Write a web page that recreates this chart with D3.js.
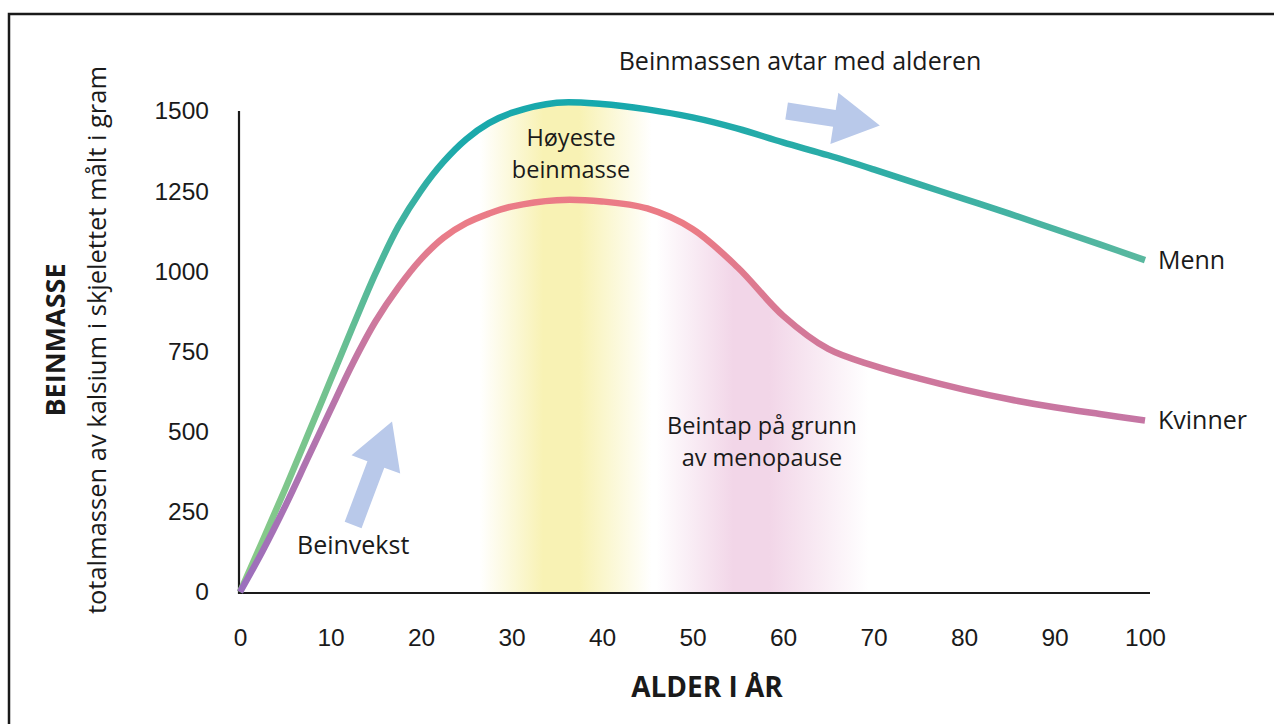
<!DOCTYPE html>
<html lang="no">
<head>
<meta charset="utf-8">
<title>Beinmasse gjennom livet</title>
<script src="https://cdn.jsdelivr.net/npm/d3@7/dist/d3.min.js"></script>
<style>
  html, body { margin: 0; padding: 0; background: #fff; }
  svg { display: block; font-family: "Open Sans", "Noto Sans", sans-serif; }
  .tick-label { font-size: 24.5px; fill: #1a1a1a; }
  .note { font-size: 25px; fill: #1a1a1a; }
  .note.multi { font-size: 23.5px; }
</style>
</head>
<body>
<svg id="chart" width="1274" height="724"></svg>
<script>
// Alder (år) og beinmasse (gram kalsium)
const ages = [0, 2.5, 5, 7.5, 10, 12.5, 15, 17.5, 20, 22.5, 25, 27.5, 30, 35, 40, 45, 50, 55, 60, 65, 70, 75, 80, 85, 90, 95, 100];
const menn = [0, 160, 322, 490, 660, 830, 995, 1140, 1252, 1342, 1412, 1462, 1494, 1526, 1522, 1505, 1480, 1445, 1402, 1362, 1318, 1272, 1226, 1180, 1132, 1084, 1035];
const kvinner = [0, 128, 268, 418, 568, 715, 845, 950, 1038, 1105, 1150, 1180, 1202, 1222, 1218, 1196, 1132, 1012, 862, 758, 706, 666, 631, 601, 576, 555, 535];

const xTicks = [0, 10, 20, 30, 40, 50, 60, 70, 80, 90, 100];
const yTicks = [0, 250, 500, 750, 1000, 1250, 1500];

const seriesLabels = ["Menn", "Kvinner"];

// Skyggebånd: [fra, topp-start, topp-slutt, til] i år
const peakBand = [26.5, 33.5, 37.5, 45.5];
const menopauseBand = [46, 54.5, 58.5, 69.5];

// Piler: [halealder, halemasse, spissalder, spissmasse]
const growthArrow = [12.5, 209, 16.8, 532];
const declineArrow = [60.4, 1500, 70.7, 1455];

const svg = d3.select("#chart");

const x = d3.scaleLinear().domain([0, 100]).range([240, 1145]);
const y = d3.scaleLinear().domain([0, 1500]).range([592, 111]);

const menData = ages.map((a, i) => ({ age: a, v: menn[i] }));
const womenData = ages.map((a, i) => ({ age: a, v: kvinner[i] }));

const curve = d3.curveCatmullRom.alpha(0.5);
const line = d3.line().x(d => x(d.age)).y(d => y(d.v)).curve(curve);
const area = d3.area().x(d => x(d.age)).y0(y(0)).y1(d => y(d.v)).curve(curve);

const defs = svg.append("defs");

// Ramme rundt figuren
svg.append("rect")
  .attr("x", 9).attr("y", 14)
  .attr("width", 1300).attr("height", 760)
  .attr("fill", "none").attr("stroke", "#1a1a1a").attr("stroke-width", 2.5);

// Fargeforløp langs linjene
function hGradient(id, stops) {
  const g = defs.append("linearGradient")
    .attr("id", id).attr("gradientUnits", "userSpaceOnUse")
    .attr("x1", x(0)).attr("x2", x(100)).attr("y1", 0).attr("y2", 0);
  stops.forEach(s => g.append("stop")
    .attr("offset", (x(s[0]) - x(0)) / (x(100) - x(0)))
    .attr("stop-color", s[1]).attr("stop-opacity", s[2] === undefined ? 1 : s[2]));
}

hGradient("menGrad", [[0, "#8ccb88"], [10, "#72c290"], [17, "#45b49f"], [24, "#1ba9ab"], [40, "#16a8ad"], [70, "#2fada6"], [100, "#5ab89f"]]);
hGradient("womenGrad", [[0, "#9a6fbd"], [10, "#b775ab"], [17, "#d67a98"], [23, "#ea7c88"], [50, "#eb7b85"], [62, "#d37898"], [100, "#c576a4"]]);

function band(id, b, color) {
  hGradient(id, [[b[0], color, 0], [b[1], color, 1], [b[2], color, 1], [b[3], color, 0]]);
}
band("peakGrad", peakBand, "#f8f2b4");
band("menoGrad", menopauseBand, "#f2d6e8");

defs.append("clipPath").attr("id", "underMen")
  .append("path").attr("d", area(menData));
defs.append("clipPath").attr("id", "underWomen")
  .append("path").attr("d", area(womenData));

svg.append("rect")
  .attr("x", x(peakBand[0])).attr("width", x(peakBand[3]) - x(peakBand[0]))
  .attr("y", y(1600)).attr("height", y(0) - y(1600))
  .attr("fill", "url(#peakGrad)")
  .attr("clip-path", "url(#underMen)");

svg.append("rect")
  .attr("x", x(menopauseBand[0])).attr("width", x(menopauseBand[3]) - x(menopauseBand[0]))
  .attr("y", y(1600)).attr("height", y(0) - y(1600))
  .attr("fill", "url(#menoGrad)")
  .attr("clip-path", "url(#underWomen)");

// Akser
const xAxis = d3.axisBottom(x).tickValues(xTicks).tickSize(0).tickPadding(36).tickFormat(d3.format("d"));
const yAxis = d3.axisLeft(y).tickValues(yTicks).tickSize(0).tickPadding(30).tickFormat(d3.format("d"));

const gx = svg.append("g").attr("transform", `translate(0,${y(0) + 1})`).call(xAxis);
gx.select(".domain").attr("d", `M${x(0) - 1},0H${x(100) + 5}`).attr("stroke", "#1a1a1a").attr("stroke-width", 2.2);
gx.selectAll(".tick text").attr("class", "tick-label").attr("font-family", null).attr("font-size", null).attr("dy", "0.71em");

const gy = svg.append("g").attr("transform", `translate(${x(0) - 1},0)`).call(yAxis);
gy.select(".domain").attr("d", `M0,${y(1500)}V${y(0) + 2}`).attr("stroke", "#1a1a1a").attr("stroke-width", 2.2);
gy.selectAll(".tick text").attr("class", "tick-label").attr("font-family", null).attr("font-size", null);

// Kurver
svg.append("path").attr("d", line(menData))
  .attr("fill", "none").attr("stroke", "url(#menGrad)").attr("stroke-width", 6.5).attr("stroke-linecap", "butt");
svg.append("path").attr("d", line(womenData))
  .attr("fill", "none").attr("stroke", "url(#womenGrad)").attr("stroke-width", 6.5).attr("stroke-linecap", "butt");

// Piler
function arrow(a, shaft, head, headLen) {
  const x0 = x(a[0]), y0 = y(a[1]), x1 = x(a[2]), y1 = y(a[3]);
  const dx = x1 - x0, dy = y1 - y0, len = Math.hypot(dx, dy);
  const ux = dx / len, uy = dy / len, nx = -uy, ny = ux;
  const bx = x1 - ux * headLen, by = y1 - uy * headLen;
  const pts = [
    [x0 + nx * shaft / 2, y0 + ny * shaft / 2],
    [bx + nx * shaft / 2, by + ny * shaft / 2],
    [bx + nx * head / 2, by + ny * head / 2],
    [x1, y1],
    [bx - nx * head / 2, by - ny * head / 2],
    [bx - nx * shaft / 2, by - ny * shaft / 2],
    [x0 - nx * shaft / 2, y0 - ny * shaft / 2]
  ];
  svg.append("polygon").attr("points", pts.map(p => p.join(",")).join(" ")).attr("fill", "#b9c9ea");
}
arrow(growthArrow, 18, 52, 46);
arrow(declineArrow, 17, 52, 46);

// Tekster i diagrammet, én tekst per linje
function note(tx, ty, lines, anchor) {
  const multi = lines.length > 1;
  lines.forEach((l, i) => svg.append("text").attr("class", multi ? "note multi" : "note")
    .attr("text-anchor", anchor || "middle")
    .attr("x", tx).attr("y", ty + i * 32).text(l));
}
note(800, 70, ["Beinmassen avtar med alderen"]);
note(571, 146, ["Høyeste", "beinmasse"]);
note(762, 434, ["Beintap på grunn", "av menopause"]);
note(297, 554, ["Beinvekst"], "start");

// Seriernavn ved linjeslutt
svg.selectAll(".series-label").data([menn[menn.length - 1], kvinner[kvinner.length - 1]])
  .join("text").attr("class", "note series-label")
  .attr("x", x(100) + 13).attr("y", d => y(d) + 9).text((d, i) => seriesLabels[i]);

// Aksetitler
svg.append("text")
  .attr("x", 707).attr("y", 697).attr("text-anchor", "middle")
  .attr("font-size", 28).attr("font-weight", 700).attr("fill", "#1a1a1a")
  .text("ALDER I ÅR");

svg.append("text")
  .attr("transform", "translate(65,340) rotate(-90)").attr("text-anchor", "middle")
  .attr("font-size", 27).attr("font-weight", 700).attr("fill", "#1a1a1a")
  .text("BEINMASSE");

svg.append("text")
  .attr("transform", "translate(106,340) rotate(-90)").attr("text-anchor", "middle")
  .attr("font-size", 25.5).attr("fill", "#1a1a1a")
  .text("totalmassen av kalsium i skjelettet målt i gram");
</script>
</body>
</html>
